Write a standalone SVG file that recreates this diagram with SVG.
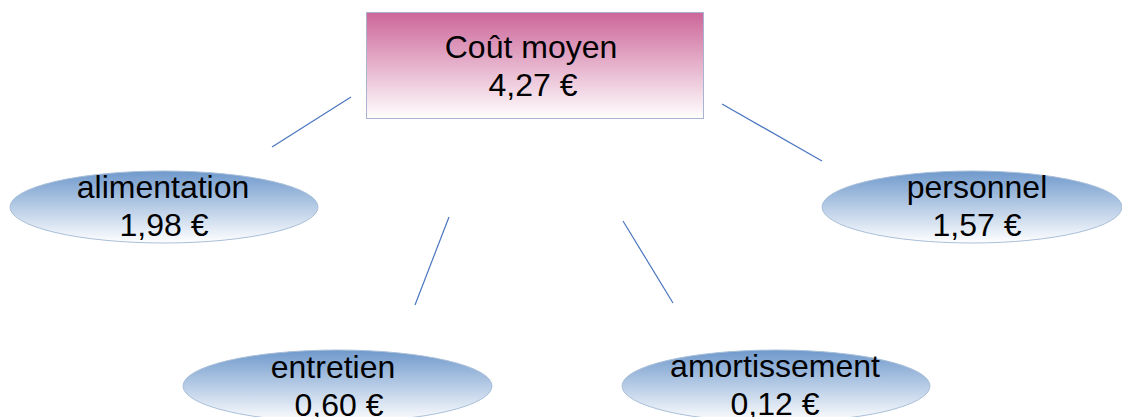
<svg xmlns="http://www.w3.org/2000/svg" width="1122" height="417" viewBox="0 0 1122 417">
<defs>
<linearGradient id="gPink" x1="0" y1="0" x2="0" y2="1">
<stop offset="0" stop-color="#cc6699"/>
<stop offset="1" stop-color="#ffffff"/>
</linearGradient>
<linearGradient id="gBlue" x1="0" y1="0" x2="0" y2="1">
<stop offset="0" stop-color="#6f99cc"/>
<stop offset="1" stop-color="#ffffff"/>
</linearGradient>
</defs>
<style>
.t{font-family:"Liberation Sans",Arial,sans-serif;font-size:32px;fill:#000;text-anchor:middle}
.e{fill:url(#gBlue);stroke:#a9bfd9;stroke-width:1}
.c{stroke:#4a76c0;stroke-width:1.2;fill:none}
</style>
<rect width="1122" height="417" fill="#ffffff"/>
<g id="connectors">
<line class="c" x1="351" y1="97" x2="272" y2="147"/>
<line class="c" x1="449" y1="217" x2="415" y2="305"/>
<line class="c" x1="623" y1="221" x2="673" y2="303"/>
<line class="c" x1="722" y1="104" x2="822" y2="161"/>
</g>
<g id="cout">
<rect x="366.5" y="12.5" width="337" height="106" fill="url(#gPink)" stroke="#a9b4d0" stroke-width="1"/>
<text class="t" x="531" y="58">Coût moyen</text>
<text class="t" x="533" y="96">4,27 €</text>
</g>
<g id="alimentation">
<ellipse class="e" cx="164" cy="207" rx="154" ry="36"/>
<text class="t" x="163" y="198">alimentation</text>
<text class="t" x="164" y="236">1,98 €</text>
</g>
<g id="personnel">
<ellipse class="e" cx="972" cy="207" rx="150" ry="36"/>
<text class="t" x="977" y="198">personnel</text>
<text class="t" x="977" y="236">1,57 €</text>
</g>
<g id="entretien">
<ellipse class="e" cx="337.5" cy="386" rx="154.5" ry="36"/>
<text class="t" x="333" y="378">entretien</text>
<text class="t" x="339" y="416">0,60 €</text>
</g>
<g id="amortissement">
<ellipse class="e" cx="776" cy="386" rx="154" ry="36"/>
<text class="t" x="775" y="377">amortissement</text>
<text class="t" x="775" y="415">0,12 €</text>
</g>
</svg>
